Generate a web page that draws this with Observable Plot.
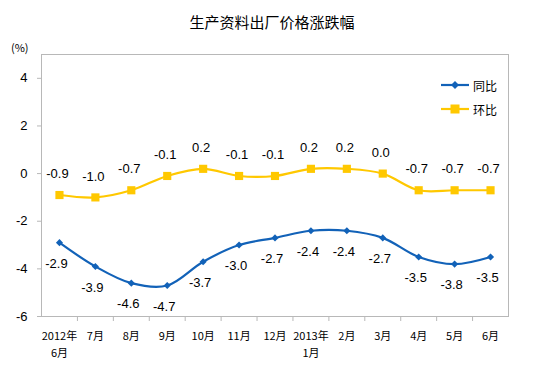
<!DOCTYPE html>
<html><head><meta charset="utf-8">
<script src="https://cdn.jsdelivr.net/npm/d3@7"></script>
<script src="https://cdn.jsdelivr.net/npm/@observablehq/plot@0.6"></script>
<style>
body{margin:0;background:#fff;}
#wrap{position:relative;width:544px;height:369px;overflow:hidden;}
#title{position:absolute;left:0;top:11px;width:544px;text-align:center;font:15px "Noto Sans CJK SC",sans-serif;color:#000;}
#unit{position:absolute;left:11px;top:39px;font:11px "Noto Sans CJK SC",sans-serif;color:#000;}
#legend{position:absolute;left:440px;top:73px;font:12px "Noto Sans CJK SC",sans-serif;color:#000;}
</style></head>
<body><div id="wrap"><div id="title">生产资料出厂价格涨跌幅</div><div id="unit">(%)</div><div id="legend"></div></div>
<script>
const categories = ["2012年\n6月","7月","8月","9月","10月","11月","12月","2013年\n1月","2月","3月","4月","5月","6月"];
const tongbi = [-2.9,-3.9,-4.6,-4.7,-3.7,-3.0,-2.7,-2.4,-2.4,-2.7,-3.5,-3.8,-3.5];
const huanbi = [-0.9,-1.0,-0.7,-0.1,0.2,-0.1,-0.1,0.2,0.2,0.0,-0.7,-0.7,-0.7];
const yTicks = [-6,-4,-2,0,2,4];
const seriesNames = ["同比","环比"];
const colors = ["#1262b8","#ffc800"];

const idx = categories.map((_, i) => i);
const bounds = idx.slice(0, -1).map(i => i + 0.5);
const tb = idx.map(i => ({i, v: tongbi[i]}));
const hb = idx.map(i => ({i, v: huanbi[i]}));

const chart = Plot.plot({
  width: 544, height: 369,
  marginLeft: 41, marginRight: 36, marginTop: 54, marginBottom: 53,
  style: {fontFamily: '"Liberation Sans", Arial, sans-serif', background: "#fff"},
  x: {type: "linear", domain: [-0.5, categories.length - 0.5]},
  y: {domain: [-6, 5]},
  marks: [
    Plot.frame({stroke: "#b8b8b8"}),
    Plot.axisY({ticks: yTicks, tickSize: 4, tickPadding: 10, stroke: "#b8b8b8", fontSize: 13, fill: "#000", label: null, tickFormat: d => String(d)}),
    Plot.axisX({ticks: bounds, tickSize: 5, stroke: "#b8b8b8", tickFormat: () => "", label: null}),
    Plot.axisX({ticks: idx, tickSize: 0, tickPadding: 12, tickFormat: i => categories[i], label: null, fontSize: 11, fill: "#000", fontFamily: '"Noto Sans CJK SC", sans-serif', lineHeight: 1.5}),
    Plot.line(tb, {x: "i", y: "v", stroke: colors[0], strokeWidth: 2.2, curve: "catmull-rom"}),
    Plot.line(hb, {x: "i", y: "v", stroke: colors[1], strokeWidth: 2.2, curve: "catmull-rom"}),
    Plot.dot(tb, {x: "i", y: "v", symbol: "diamond2", r: 3.2, fill: colors[0], stroke: null}),
    Plot.dot(hb, {x: "i", y: "v", symbol: "square", r: 4.6, fill: colors[1], stroke: null}),
    Plot.text(tb, {x: "i", y: "v", text: d => d.v.toFixed(1), dy: 21, dx: -3, fontSize: 13, fill: "#000"}),
    Plot.text(hb, {x: "i", y: "v", text: d => d.v.toFixed(1), dy: -21, dx: -2, fontSize: 13, fill: "#000"})
  ]
});
document.getElementById("wrap").prepend(chart);
chart.style.position = "absolute"; chart.style.left = "0"; chart.style.top = "0";

const lg = document.getElementById("legend");
lg.innerHTML = seriesNames.map((n, k) => {
  const mk = k === 0
    ? `<path d="M15 6 L19 10 L15 14 L11 10 Z" fill="${colors[0]}"/>`
    : `<rect x="10.5" y="5.5" width="9" height="9" fill="${colors[1]}"/>`;
  return `<div style="display:flex;align-items:center;height:24px"><svg width="30" height="20"><line x1="1" x2="29" y1="10" y2="10" stroke="${colors[k]}" stroke-width="2.2"/>${mk}</svg><span style="margin-left:3px">${n}</span></div>`;
}).join("");
</script></body></html>
